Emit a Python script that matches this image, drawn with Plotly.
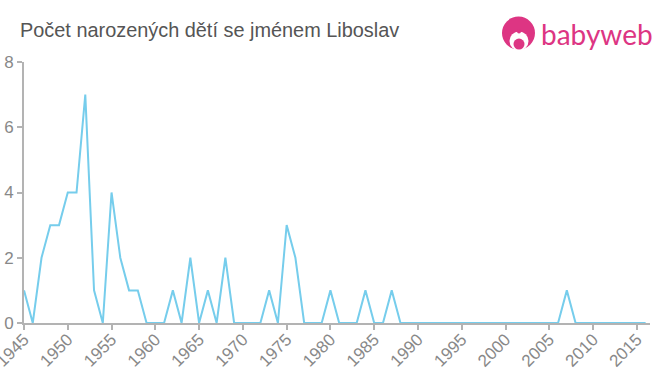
import plotly.graph_objects as go

years = list(range(1945, 2017))
counts_1945_1968 = [1, 0, 2, 3, 3, 4, 4, 7, 1, 0, 4, 2, 1, 1, 0, 0, 0, 1, 0, 2, 0, 1, 0, 2]
counts_1969_1988 = [0, 0, 0, 0, 1, 0, 3, 2, 0, 0, 0, 1, 0, 0, 0, 1, 0, 0, 1, 0]
counts_1989_2006 = [0, 0, 0, 0, 0, 0, 0, 0, 0, 0, 0, 0, 0, 0, 0, 0, 0, 0]
counts_2007_2016 = [1, 0, 0, 0, 0, 0, 0, 0, 0, 0]
counts = counts_1945_1968 + counts_1969_1988 + counts_1989_2006 + counts_2007_2016
title = "Počet narozených dětí se jménem Liboslav"
x_ticks = list(range(1945, 2020, 5))
y_ticks = [0, 2, 4, 6, 8]
logo_text = "babyweb"

W, H = 660, 375
L, R, T, B = 24, 650, 62, 323.5
PINK = "#DD3583"
GREY = "#B3B3B3"
TICK = dict(size=17, color="#888888")


def circle(cx, cy, r, color):
    return dict(type="circle", xref="paper", yref="paper", layer="above",
                x0=(cx - r - L) / (R - L), x1=(cx + r - L) / (R - L),
                y0=(B - (cy + r)) / (B - T), y1=(B - (cy - r)) / (B - T),
                fillcolor=color, line_width=0)


fig = go.Figure(go.Scatter(x=years, y=counts, mode="lines",
                           line=dict(color="#76CDEC", width=2), hoverinfo="skip", cliponaxis=False))

fig.update_layout(
    width=W, height=H, autosize=False, showlegend=False,
    margin=dict(l=L, r=W - R, t=T, b=H - B, pad=0, autoexpand=False),
    paper_bgcolor="white", plot_bgcolor="white",
    font=dict(family="Liberation Sans, Arial, sans-serif", color="#888888", size=16),
    xaxis=dict(range=[1945, 2016.5], tickmode="array", tickvals=x_ticks,
               ticktext=[str(v) for v in x_ticks], tickangle=-45, ticks="outside",
               ticklen=5, tickwidth=1.5, tickcolor=GREY, showgrid=False, zeroline=False,
               showline=True, linecolor=GREY, linewidth=2, automargin=False, tickfont=TICK,
               ticklabeloverflow="allow", ticklabelstandoff=-7),
    yaxis=dict(range=[0, 8], tickmode="array", tickvals=y_ticks, ticks="outside",
               ticklen=5, tickwidth=1.5, tickcolor=GREY, showgrid=False, zeroline=False,
               showline=True, linecolor=GREY, linewidth=2, automargin=False, tickfont=TICK),
    annotations=[
        dict(text=title, xref="paper", yref="paper", showarrow=False,
             x=(18 - L) / (R - L), y=(B - 30) / (B - T), xanchor="left", yanchor="middle",
             font=dict(size=19.9, color="#555555")),
        dict(text=logo_text, xref="paper", yref="paper", showarrow=False,
             x=(539 - L) / (R - L), y=(B - 34) / (B - T), xanchor="left", yanchor="middle",
             font=dict(family="Lato, sans-serif", size=28, color=PINK)),
    ],
    shapes=[
        circle(518.5, 33, 16.5, PINK),
        circle(519, 41, 9.5, "white"),
        circle(519, 31.5, 2, PINK),
        circle(519, 44, 5.5, PINK),
    ],
)
fig.write_html("out.html", config={"displayModeBar": False},
               post_script="document.body.style.margin='0';")
